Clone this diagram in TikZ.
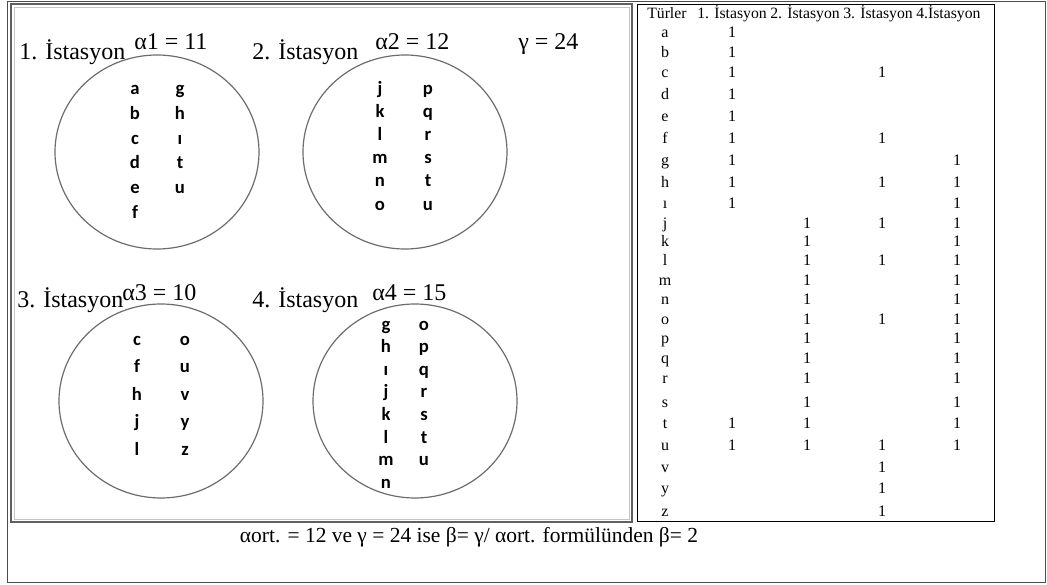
\documentclass[tikz,border=0pt]{standalone}
\usepackage{fontspec}
\usetikzlibrary{shapes.geometric}
\setmainfont{Liberation Serif}
\newfontfamily\sansb{Carlito}
\begin{document}
\begin{tikzpicture}[x=0.75pt,y=-0.75pt,
  big/.style={font=\fontsize{18}{20}\selectfont, inner sep=0pt, anchor=base west},
  sp/.style={font=\sansb\bfseries\fontsize{14}{16}\selectfont, inner sep=0pt, anchor=base},
  tb/.style={font=\fontsize{12}{14}\selectfont, inner sep=0pt, anchor=base},
  th/.style={font=\fontsize{11.8}{14}\selectfont, inner sep=0pt, anchor=base west},
  circ/.style={ellipse, draw=gray!85!black, line width=0.9pt, inner sep=0pt,
    minimum width=153pt, minimum height=145.5pt}]
\useasboundingbox (0,0) rectangle (1047,585);
% frames
\draw[draw=gray!60!black, line width=0.7pt] (7,1) rectangle (1045,582);
\draw[draw=gray!75!black, line width=2pt] (11,4) rectangle (632,522);
\draw[draw=gray!45, line width=0.6pt] (14,7) rectangle (629,519);
\draw[draw=black, line width=0.7pt] (637,4) rectangle (994,521);
% labels
\node[big] (l1) at (19,60) {1. İstasyon};
\node[big] (a1) at (134,50) {α1 = 11};
\node[big] (l2) at (252,60) {2. İstasyon};
\node[big] (a2) at (375,50) {α2 = 12};
\node[big] (g) at (518,50) {γ = 24};
\node[big] (l3) at (17,307) {3. İstasyon};
\node[big] (a3) at (122,300) {α3 = 10};
\node[big] (l4) at (252,307) {4. İstasyon};
\node[big] (a4) at (372,300) {α4 = 15};
% circles
\node[circ] (e1) at (157,152) {};
\node[circ] (e2) at (405,152) {};
\node[circ] (e3) at (161,401) {};
\node[circ] (e4) at (415,401) {};
% circle 1
\foreach \t [count=\i from 0] in {a,b,c,d,e,f}
  \node[sp] (c1a\i) at (135,{95+24.6*\i}) {\t};
\foreach \t [count=\i from 0] in {g,h,ı,t,u}
  \node[sp] (c1b\i) at (180,{95+24.6*\i}) {\t};
% circle 2
\foreach \t [count=\i from 0] in {j,k,l,m,n,o}
  \node[sp] (c2a\i) at (380,{94+23.2*\i}) {\t};
\foreach \t [count=\i from 0] in {p,q,r,s,t,u}
  \node[sp] (c2b\i) at (428,{94+23.2*\i}) {\t};
% circle 3
\foreach \t [count=\i from 0] in {c,f,h,j,l}
  \node[sp] (c3a\i) at (137,{345+27.5*\i}) {\t};
\foreach \t [count=\i from 0] in {o,u,v,y,z}
  \node[sp] (c3b\i) at (185,{345+27.5*\i}) {\t};
% circle 4
\foreach \t [count=\i from 0] in {g,h,ı,j,k,l,m,n}
  \node[sp] (c4a\i) at (386,{330+22.6*\i}) {\t};
\foreach \t [count=\i from 0] in {o,p,q,r,s,t,u}
  \node[sp] (c4b\i) at (424,{330+22.6*\i}) {\t};
% table header
\node[th] (h0) at (647,19) {Türler};
\node[th] (h1) at (697,19) {1. İstasyon};
\node[th] (h2) at (770,19) {2. İstasyon};
\node[th] (h3) at (843,19) {3. İstasyon};
\node[th] (h4) at (916,19) {4.İstasyon};
% table rows
\foreach \n/\y/\c [count=\r] in {a/33/{1},b/53/{1},c/73/{1,3},d/95/{1},e/117/{1},f/138/{1,3},
  g/161/{1,4},h/182/{1,3,4},ı/203/{1,4},j/223/{2,3,4},k/241/{2,4},l/260/{2,3,4},
  m/280/{2,4},n/299/{2,4},o/319/{2,3,4},p/338/{2,4},q/358/{2,4},r/378/{2,4},
  s/402/{2,4},t/423/{1,2,4},u/445/{1,2,3,4},v/467/{3},y/488/{3},z/511/{3}}{
  \node[tb] (r\r) at (665,\y+5) {\n};
  \foreach \k in \c {
    \node[tb] (r\r-\k) at ({732+75*(\k-1)},\y+5) {1};
  }
}
% bottom formula
\node[font=\fontsize{16.1}{20}\selectfont, inner sep=0pt, anchor=base] (f) at (469,542)
  {αort. = 12 ve γ = 24 ise β= γ/ αort. formülünden β= 2};
\end{tikzpicture}
\end{document}
